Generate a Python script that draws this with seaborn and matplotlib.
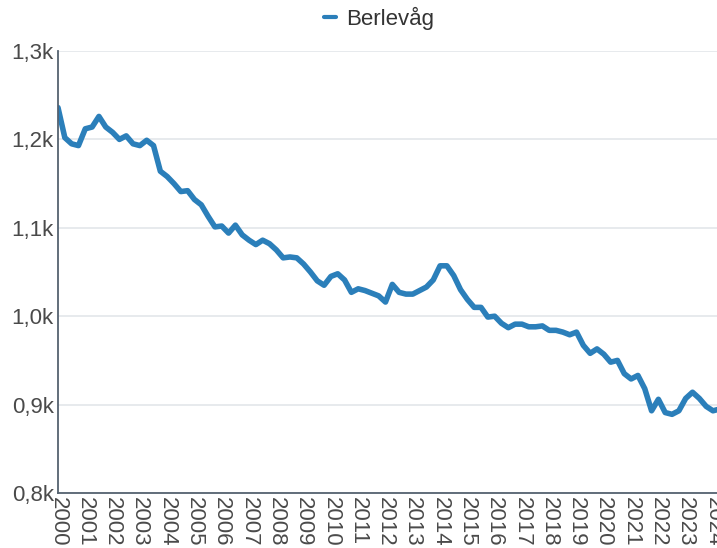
import matplotlib
matplotlib.use('Agg')
import matplotlib.pyplot as plt
import seaborn as sns
import pandas as pd
from matplotlib.ticker import FuncFormatter, MultipleLocator

# --- Data: quarterly population, Berlevåg (2000 Q1 .. 2024 Q2) ---
kommune = "Berlevåg"
folketall = [
    1236, 1202, 1195, 1193, 1212, 1214, 1226, 1214, 1208, 1200, 1204, 1195,
    1193, 1199, 1193, 1164, 1158, 1150, 1141, 1142, 1132, 1126, 1113, 1101,
    1102, 1094, 1103, 1092, 1086, 1081, 1086, 1082, 1075, 1066, 1067, 1066,
    1059, 1050, 1040, 1035, 1045, 1048, 1041, 1027, 1031, 1029, 1026, 1023,
    1016, 1036, 1027, 1025, 1025, 1029, 1033, 1041, 1057, 1057, 1046, 1030,
    1019, 1010, 1010, 999, 1000, 992, 987, 991, 991, 988, 988, 989,
    984, 984, 982, 979, 982, 967, 958, 963, 957, 948, 950, 935,
    929, 933, 918, 893, 906, 891, 889, 893, 907, 914, 907, 898,
    893, 895,
]
kvartal = [2000 + i / 4 for i in range(len(folketall))]
aar = list(range(2000, 2025))

df = pd.DataFrame({"kvartal": kvartal, "folketall": folketall, "kommune": kommune})

sns.set_theme(style="white")
plt.rcParams['font.family'] = ['Liberation Sans', 'DejaVu Sans']

fig = plt.figure(figsize=(7.17, 5.48), dpi=100)
ax = fig.add_axes([58 / 717, 1 - 493 / 548, 1 - 58 / 717 + 0.002, (493 - 51) / 548])

sns.lineplot(data=df, x="kvartal", y="folketall", hue="kommune",
             palette=["#2b7fba"], linewidth=4, ax=ax)

ax.set_xlim(2000, 2024.2)
ax.set_ylim(800, 1300)
ax.yaxis.set_major_locator(MultipleLocator(100))
ax.yaxis.set_major_formatter(FuncFormatter(lambda v, p: f"{v / 1000:.1f}k".replace(".", ",")))
ax.set_xticks(aar)
ax.set_xticklabels([str(a) for a in aar], rotation=-90, va="top", ha="center")
ax.tick_params(axis="both", labelsize=16, colors="#4a4a4a", length=0, pad=3)
ax.set_xlabel("")
ax.set_ylabel("")

ax.grid(axis="y", color="#e3e6ea", linewidth=1.2)
ax.set_axisbelow(True)
for s in ["top", "right"]:
    ax.spines[s].set_visible(False)
for s in ["left", "bottom"]:
    ax.spines[s].set_color("#556270")
    ax.spines[s].set_linewidth(1.3)

leg = ax.legend(loc="center", bbox_to_anchor=(0.486, 1 + 33 / 442), frameon=False,
                fontsize=16, handlelength=0.55, handletextpad=0.45, labelcolor="#333333",
                borderpad=0, borderaxespad=0)
for line in leg.get_lines():
    line.set_linewidth(3)

fig.savefig("out.png", dpi=100)
